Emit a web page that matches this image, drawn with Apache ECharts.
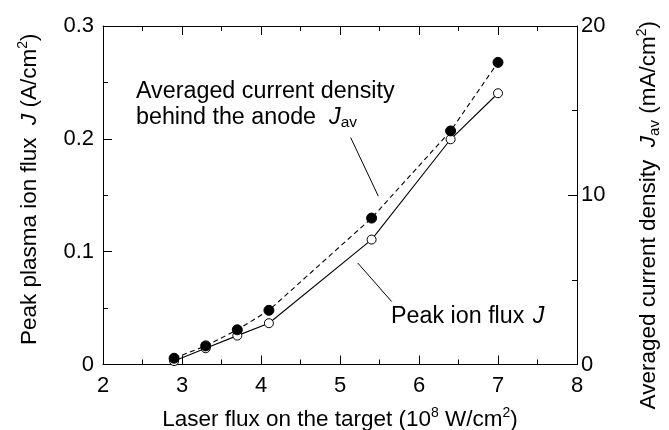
<!DOCTYPE html>
<html lang="en">
  <head>
    <meta charset="UTF-8" />
    <title>Laser flux vs ion flux</title>
    <script src="https://cdn.jsdelivr.net/npm/echarts@6/dist/echarts.min.js"></script>
    <style>
      html, body { margin: 0; padding: 0; background: #fff; }
      .echarts { width: 669px; height: 430px; }
    </style>
  </head>
  <body>
    <div class="echarts"></div>
    <script>
      // laser flux (10^8 W/cm^2)
      const laserFlux = [2.9, 3.3, 3.7, 4.1, 5.4, 6.4, 7.0]
      // peak plasma ion flux J (A/cm^2), open circles, left axis
      const peakFlux = [0.003, 0.0144, 0.0256, 0.0366, 0.1107, 0.1996, 0.2404]
      // averaged current density J_av (mA/cm^2), filled circles, right axis
      const avgDensity = [0.37, 1.1, 2.05, 3.2, 8.65, 13.8, 17.85]

      const font = 'Liberation Sans, Arial, Helvetica, sans-serif'
      const fs = 22.5
      const fa = 23.3 // annotations inside the plot
      const rich = {
        i: { fontStyle: 'italic', fontSize: fs, fontFamily: font, color: '#000', lineHeight: 27 },
        sup: { fontSize: 14, fontFamily: font, color: '#000', verticalAlign: 'top', lineHeight: 14 },
        sub: { fontSize: 15, fontFamily: font, color: '#000', verticalAlign: 'bottom', lineHeight: 15 }
      }
      const richA = {
        i: { fontStyle: 'italic', fontSize: fa, fontFamily: font, color: '#000', lineHeight: 27 },
        ip: { fontStyle: 'italic', fontSize: fa, fontFamily: font, color: '#000', lineHeight: 27, padding: [0, 0, 0, 2] },
        sub: { fontSize: 15.5, fontFamily: font, color: '#000', verticalAlign: 'bottom', lineHeight: 15 }
      }
      const nameStyle = { fontSize: fs, fontFamily: font, color: '#000', lineHeight: 27, rich: rich }
      const labelStyle = { fontSize: 22, fontFamily: font, color: '#000' }
      const black = { color: '#000', width: 1 }

      const myCharts = echarts.init(document.querySelector('.echarts'), null, { renderer: 'canvas' })
      const option = {
        animation: false,
        grid: { left: 103, right: 92, top: 26, bottom: 65.5, outerBoundsMode: 'none', containLabel: false },
        xAxis: [
          {
            type: 'value', min: 2, max: 8, interval: 1, position: 'bottom',
            name: 'Laser flux on the target (10{sup|8} W/cm{sup|2})',
            nameLocation: 'middle', nameGap: 42, nameTextStyle: nameStyle,
            axisLine: { show: true, onZero: false, lineStyle: black },
            axisTick: { show: true, inside: true, length: 9, lineStyle: black },
            minorTick: { show: true, splitNumber: 2, length: 5, lineStyle: black },
            axisLabel: Object.assign({ margin: 10 }, labelStyle),
            splitLine: { show: false }
          },
          {
            type: 'value', min: 2, max: 8, interval: 1, position: 'top',
            axisLine: { show: true, onZero: false, lineStyle: black },
            axisTick: { show: true, inside: true, length: 9, lineStyle: black },
            minorTick: { show: true, splitNumber: 2, length: 5, lineStyle: black },
            axisLabel: { show: false },
            splitLine: { show: false }
          }
        ],
        yAxis: [
          {
            type: 'value', min: 0, max: 0.3, interval: 0.1, position: 'left',
            name: 'Peak plasma ion flux  {i|J} (A/cm{sup|2})',
            nameLocation: 'middle', nameGap: 60,
            nameTextStyle: Object.assign({ padding: [0, 0, 0, 12] }, nameStyle),
            axisLine: { show: true, lineStyle: black },
            axisTick: { show: true, inside: true, length: 9, lineStyle: black },
            minorTick: { show: true, splitNumber: 2, length: 5, lineStyle: black },
            axisLabel: Object.assign({ margin: 9 }, labelStyle),
            splitLine: { show: false }
          },
          {
            type: 'value', min: 0, max: 20, interval: 10, position: 'right',
            name: 'Averaged current density  {i|J}{sub|av} (mA/cm{sup|2})',
            nameLocation: 'middle', nameGap: 58,
            nameTextStyle: Object.assign({ padding: [0, 40, 0, 0] }, nameStyle),
            axisLine: { show: true, lineStyle: black },
            axisTick: { show: true, inside: true, length: 9, lineStyle: black },
            minorTick: { show: true, splitNumber: 2, length: 5, lineStyle: black },
            axisLabel: Object.assign({ margin: 4 }, labelStyle),
            splitLine: { show: false }
          }
        ],
        graphic: [
          {
            type: 'text', left: 136, top: 80, z: 10,
            style: {
              text: 'Averaged current density\nbehind the anode  {i|J}{sub|av}',
              font: fa + 'px ' + font, fill: '#000', lineHeight: 24, rich: richA
            }
          },
          {
            type: 'text', left: 391, top: 305, z: 10,
            style: {
              text: 'Peak ion flux {ip|J}',
              font: fa + 'px ' + font, fill: '#000', rich: richA
            }
          }
        ],
        series: [
          {
            name: 'J', type: 'line', xAxisIndex: 0, yAxisIndex: 0, z: 2,
            data: laserFlux.map((x, k) => [x, peakFlux[k]]),
            symbol: 'circle', symbolSize: 9,
            itemStyle: { color: '#fff', borderColor: '#000', borderWidth: 1 },
            lineStyle: { color: '#000', width: 1.1 },
            // leader lines for the two annotations
            markLine: {
              silent: true, symbol: 'none', label: { show: false },
              lineStyle: { color: '#000', width: 1, type: 'solid' },
              data: [[{ coord: [5.224, 0.09] }, { coord: [5.654, 0.0558] }],
                     [{ coord: [5.135, 0.2011] }, { coord: [5.485, 0.1492] }]]
            }
          },
          {
            name: 'Jav', type: 'line', xAxisIndex: 0, yAxisIndex: 1, z: 3,
            data: laserFlux.map((x, k) => [x, avgDensity[k]]),
            symbol: 'circle', symbolSize: 10,
            itemStyle: { color: '#000', borderColor: '#000', borderWidth: 1 },
            lineStyle: { color: '#000', width: 1.1, type: [5, 3.5] }
          }
        ]
      }
      myCharts.setOption(option)
    </script>
  </body>
</html>
